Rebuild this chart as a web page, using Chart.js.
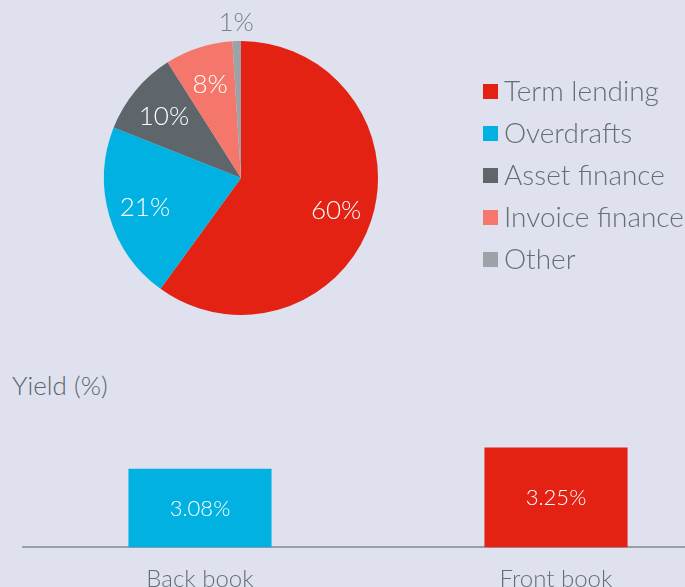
<!DOCTYPE html>
<html>
<head>
<meta charset="utf-8">
<script src="https://cdn.jsdelivr.net/npm/chart.js@4"></script>
<style>
  html, body { margin:0; padding:0; width:685px; height:587px; overflow:hidden; background:#dfe2ee; }
  #pieWrap { position:absolute; left:0; top:0; width:685px; height:340px; }
  #barWrap { position:absolute; left:22px; top:416px; width:712px; height:196px; }
  #yieldTitle { position:absolute; left:12px; top:369px; font-family:"Lato Light", Lato, sans-serif; font-weight:300; font-size:26px; color:#5d636b; }
</style>
</head>
<body>
<div id="pieWrap"><canvas id="pie"></canvas></div>
<div id="yieldTitle">Yield (%)</div>
<div id="barWrap"><canvas id="bar"></canvas></div>
<script>
// ---- data ----
const pieCategories = ["Term lending", "Overdrafts", "Asset finance", "Invoice finance", "Other"];
const pieValues = [60, 21, 10, 8, 1];
const pieColors = ["#e32213", "#00b1e1", "#5e666c", "#f5766a", "#9ba2a8"];

const barCategories = ["Back book", "Front book"];
const barValues = [3.08, 3.25];
const barColors = ["#00b1e1", "#e32213"];

const FONT = "'Lato Light', Lato, sans-serif";

// ---- pie labels plugin ----
const pieLabels = {
  id: "pieLabels",
  afterDatasetsDraw(chart) {
    const ctx = chart.ctx;
    const meta = chart.getDatasetMeta(0);
    const data = chart.data.datasets[0].data;
    ctx.save();
    ctx.textAlign = "center";
    ctx.textBaseline = "middle";
    ctx.font = "300 26px " + FONT;
    meta.data.forEach((arc, i) => {
      const p = arc.getProps(["x", "y", "startAngle", "endAngle", "outerRadius"], true);
      const mid = (p.startAngle + p.endAngle) / 2;
      const small = data[i] < 3;
      const r = p.outerRadius * (small ? 1.15 : 0.73);
      ctx.fillStyle = small ? "#7a8088" : "#ffffff";
      ctx.fillText(data[i] + "%", p.x + Math.cos(mid) * r, p.y + Math.sin(mid) * r + 2);
    });
    ctx.restore();
  }
};

// ---- custom legend plugin ----
const sideLegend = {
  id: "sideLegend",
  afterDraw(chart) {
    const ctx = chart.ctx;
    const labels = chart.data.labels;
    const colors = chart.data.datasets[0].backgroundColor;
    ctx.save();
    ctx.textBaseline = "middle";
    ctx.textAlign = "left";
    ctx.font = "300 28px " + FONT;
    labels.forEach((lab, i) => {
      const cy = 92 + i * 42;
      ctx.fillStyle = colors[i];
      ctx.fillRect(483, cy - 8, 15, 15);
      ctx.fillStyle = "#676d75";
      ctx.fillText(lab, 504, cy);
    });
    ctx.restore();
  }
};

new Chart(document.getElementById("pie"), {
  type: "pie",
  data: {
    labels: pieCategories,
    datasets: [{ data: pieValues, backgroundColor: pieColors, borderWidth: 0 }]
  },
  options: {
    responsive: true,
    maintainAspectRatio: false,
    animation: false,
    layout: { padding: { left: 104, right: 307, top: 41, bottom: 25 } },
    plugins: { legend: { display: false }, tooltip: { enabled: false } }
  },
  plugins: [pieLabels, sideLegend]
});

// ---- bar labels plugin ----
const barLabels = {
  id: "barLabels",
  afterDatasetsDraw(chart) {
    const ctx = chart.ctx;
    const meta = chart.getDatasetMeta(0);
    const data = chart.data.datasets[0].data;
    const bottom = chart.chartArea.bottom;
    ctx.save();
    ctx.textAlign = "center";
    ctx.textBaseline = "middle";
    ctx.font = "300 22px " + FONT;
    ctx.fillStyle = "#ffffff";
    meta.data.forEach((bar, i) => {
      const p = bar.getProps(["x", "y"], true);
      ctx.fillText(data[i].toFixed(2) + "%", p.x, (p.y + bottom) / 2 + 1);
    });
    ctx.restore();
  }
};

new Chart(document.getElementById("bar"), {
  type: "bar",
  data: {
    labels: barCategories,
    datasets: [{ data: barValues, backgroundColor: barColors, borderWidth: 0,
                 categoryPercentage: 1, barPercentage: 0.402 }]
  },
  options: {
    responsive: true,
    maintainAspectRatio: false,
    animation: false,
    layout: { padding: 0 },
    plugins: { legend: { display: false }, tooltip: { enabled: false } },
    scales: {
      x: {
        grid: { display: false, drawTicks: false },
        border: { display: true, color: "#9a9fa6", width: 2 },
        ticks: { color: "#676d75", font: { family: FONT, size: 24, weight: "300" }, padding: 18 }
      },
      y: { display: false, min: 2.457, max: 3.5 }
    }
  },
  plugins: [barLabels]
});
</script>
</body>
</html>
